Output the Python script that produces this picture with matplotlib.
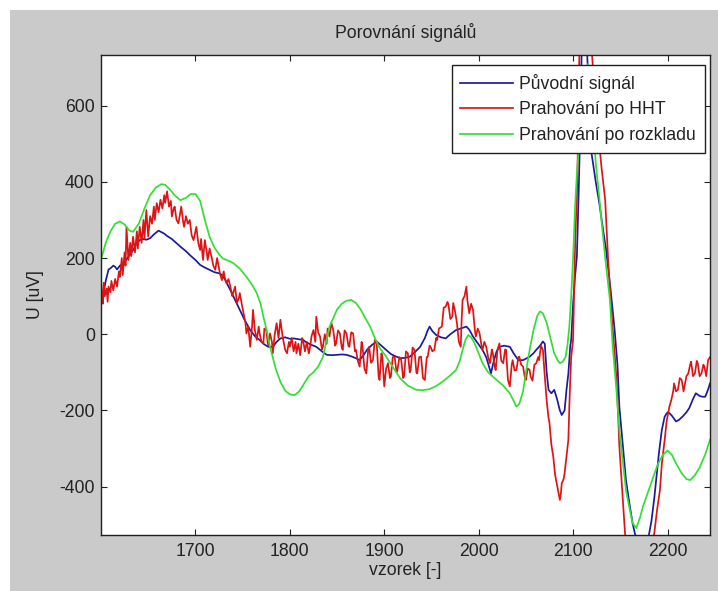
import matplotlib
matplotlib.use("Agg")
import matplotlib.pyplot as plt
from matplotlib.patches import Rectangle

plt.rcParams['font.family'] = ['Liberation Sans', 'DejaVu Sans']
plt.rcParams['axes.unicode_minus'] = False

title = "Porovnání signálů"
xlabel = "vzorek [-]"
ylabel = "U [uV]"
labels = ["Původní signál", "Prahování po HHT", "Prahování po rozkladu"]
xticks = [1700, 1800, 1900, 2000, 2100, 2200]
yticks = [-400, -200, 0, 200, 400, 600]

blue_pts = [(1600,120),(1602,99),(1605,140),(1608,170),(1610,173),(1613,180),(1615,177),(1617,170),(1620,180),(1624,186),(1628,200),(1631,210),(1634,221),(1637,235),(1641,247),(1645,250),(1648,248),(1652,252),(1656,262),(1659,268),(1661,272),(1664,268),(1667,264),(1670,258),(1675,250),(1680,239),(1685,228),(1690,218),(1694,208),(1700,195),(1705,182),(1710,175),(1715,169),(1720,163),(1725,160),(1728,156),(1731,145),(1734,130),(1737,116),(1742,90),(1747,64),(1752,38),(1758,11),(1763,-5),(1768,-15),(1772,-25),(1777,-33),(1782,-33),(1786,-20),(1790,-11),(1795,-8),(1800,-12),(1804,-11),(1809,-13),(1814,-15),(1818,-22),(1823,-28),(1828,-33),(1834,-45),(1839,-54),(1845,-55),(1850,-54),(1855,-53),(1860,-54),(1865,-58),(1870,-63),(1874,-68),(1878,-55),(1882,-40),(1887,-28),(1892,-19),(1896,-28),(1902,-41),(1907,-52),(1912,-58),(1917,-63),(1922,-62),(1927,-59),(1932,-48),(1938,-33),(1943,-10),(1946,10),(1948,20),(1951,8),(1955,-2),(1960,-8),(1965,-11),(1970,0),(1976,11),(1981,15),(1987,20),(1990,12),(1994,-6),(1998,-20),(2001,-30),(2004,-41),(2008,-60),(2011,-85),(2013,-103),(2016,-70),(2019,-45),(2022,-33),(2027,-30),(2033,-33),(2037,-50),(2042,-68),(2047,-68),(2051,-63),(2054,-59),(2058,-50),(2061,-41),(2065,-30),(2068,-19),(2070,-25),(2072,-100),(2074,-146),(2077,-155),(2080,-146),(2083,-170),(2086,-200),(2088,-212),(2091,-200),(2093,-146),(2095,-103),(2097,-30),(2098,-15),(2100,80),(2102,150),(2104,204),(2106,380),(2107,484),(2109,730),(2112,820),(2115,730),(2119,484),(2124,400),(2128,340),(2132,270),(2135,221),(2140,110),(2144,11),(2147,-80),(2149,-190),(2153,-300),(2156,-383),(2160,-450),(2163,-496),(2167,-540),(2171,-565),(2175,-570),(2179,-545),(2183,-490),(2186,-430),(2188,-383),(2191,-310),(2194,-251),(2197,-216),(2200,-205),(2202,-207),(2205,-215),(2209,-229),(2212,-225),(2216,-216),(2220,-205),(2223,-194),(2227,-170),(2230,-155),(2234,-162),(2237,-164),(2240,-164),(2243,-145),(2245,-129)]

red_pts = [(1600,150),(1601,95),(1602,80),(1603,135),(1604,100),(1606,120),(1607,85),(1608,125),(1610,110),(1611,140),(1613,115),(1615,145),(1617,125),(1619,165),(1620,150),(1622,200),(1623,155),(1625,215),(1626,180),(1627,282),(1629,195),(1631,240),(1632,205),(1634,256),(1636,215),(1638,270),(1639,225),(1641,282),(1643,240),(1645,300),(1646,250),(1648,326),(1650,256),(1652,310),(1654,290),(1656,335),(1657,300),(1659,344),(1661,320),(1663,353),(1665,330),(1667,365),(1668,345),(1670,375),(1672,335),(1674,350),(1675,309),(1677,330),(1678,335),(1680,300),(1682,291),(1684,320),(1685,335),(1687,295),(1688,282),(1690,310),(1692,290),(1694,300),(1696,260),(1698,247),(1700,270),(1701,282),(1703,240),(1705,221),(1706,250),(1708,195),(1710,247),(1712,215),(1713,195),(1715,225),(1717,204),(1719,180),(1721,169),(1723,200),(1724,186),(1726,160),(1728,142),(1730,165),(1731,150),(1733,134),(1735,145),(1737,125),(1739,100),(1740,108),(1742,125),(1744,82),(1746,95),(1747,108),(1749,80),(1751,55),(1753,30),(1754,2),(1756,20),(1758,-33),(1760,20),(1761,64),(1763,10),(1765,-15),(1767,20),(1768,2),(1770,-20),(1772,-24),(1773,15),(1775,11),(1777,-30),(1779,2),(1781,-20),(1782,-50),(1784,0),(1786,29),(1788,-10),(1790,38),(1792,0),(1793,-15),(1795,-40),(1797,-50),(1799,-20),(1800,-33),(1802,-10),(1804,-45),(1806,-20),(1807,-50),(1809,-25),(1811,-55),(1813,-10),(1814,-15),(1816,-45),(1818,-20),(1820,-50),(1821,-41),(1823,-5),(1825,11),(1827,-20),(1828,46),(1830,5),(1832,-6),(1834,-40),(1835,-33),(1837,0),(1839,-25),(1840,15),(1842,-6),(1844,30),(1846,11),(1848,-30),(1849,-24),(1851,10),(1853,2),(1855,-35),(1856,-41),(1858,10),(1860,2),(1862,-30),(1863,-33),(1865,5),(1867,2),(1869,-45),(1870,-41),(1872,-70),(1874,-85),(1876,-20),(1877,-33),(1879,-90),(1881,-103),(1883,-40),(1884,-33),(1886,-75),(1888,-68),(1890,-15),(1892,-24),(1894,-110),(1895,-120),(1897,-50),(1898,-59),(1900,-137),(1902,-90),(1904,-76),(1906,-115),(1907,-111),(1909,-60),(1911,-59),(1913,-100),(1914,-94),(1916,-60),(1918,-68),(1920,-115),(1921,-111),(1923,-45),(1925,-50),(1927,-100),(1928,-94),(1930,-35),(1932,-41),(1934,-100),(1935,-103),(1937,-60),(1939,-59),(1941,-115),(1943,-120),(1945,-60),(1946,-59),(1948,-30),(1949,-33),(1951,-45),(1953,-41),(1955,-10),(1956,-15),(1958,15),(1961,20),(1963,70),(1965,72),(1967,85),(1968,77),(1970,40),(1972,46),(1973,82),(1975,60),(1977,29),(1979,-20),(1981,-33),(1982,40),(1983,90),(1985,100),(1987,125),(1988,90),(1990,55),(1992,80),(1994,64),(1996,10),(1997,-6),(1999,15),(2001,2),(2003,-30),(2004,-41),(2006,-20),(2008,-33),(2010,-60),(2012,-76),(2014,-40),(2015,-50),(2017,-85),(2018,-94),(2020,-40),(2022,-24),(2024,-70),(2026,-76),(2028,-40),(2029,-41),(2031,-120),(2033,-137),(2035,-80),(2036,-68),(2038,-95),(2040,-94),(2042,-60),(2043,-59),(2045,-80),(2047,-85),(2049,-115),(2050,-120),(2052,-90),(2054,-94),(2055,-111),(2057,-122),(2059,-80),(2061,-76),(2063,-60),(2064,-68),(2066,-30),(2068,-41),(2070,-110),(2072,-173),(2074,-220),(2075,-233),(2077,-290),(2079,-321),(2081,-370),(2082,-383),(2084,-410),(2086,-435),(2087,-420),(2088,-391),(2090,-380),(2091,-365),(2093,-320),(2095,-277),(2096,-190),(2097,-120),(2098,-59),(2100,-15),(2101,100),(2102,220),(2103,300),(2104,352),(2105,480),(2106,650),(2107,780),(2110,860),(2113,880),(2116,850),(2119,770),(2121,700),(2124,600),(2127,520),(2130,440),(2134,352),(2137,200),(2140,80),(2142,11),(2144,-50),(2146,-120),(2148,-230),(2149,-295),(2151,-370),(2153,-443),(2155,-522),(2158,-600),(2162,-650),(2167,-680),(2173,-670),(2178,-640),(2182,-580),(2186,-522),(2189,-460),(2192,-409),(2194,-340),(2197,-277),(2199,-230),(2200,-216),(2202,-190),(2204,-173),(2206,-150),(2207,-129),(2209,-150),(2211,-146),(2213,-115),(2215,-120),(2217,-150),(2218,-137),(2220,-110),(2222,-103),(2224,-80),(2225,-72),(2227,-110),(2229,-103),(2231,-70),(2232,-76),(2234,-110),(2236,-103),(2238,-80),(2239,-85),(2241,-110),(2243,-68),(2245,-60)]

green_pts = [(1600,195),(1605,240),(1610,270),(1615,290),(1620,296),(1625,288),(1630,272),(1634,269),(1640,290),(1646,330),(1652,365),(1658,385),(1664,394),(1668,392),(1673,380),(1678,365),(1684,352),(1690,358),(1695,368),(1700,368),(1705,350),(1710,300),(1715,256),(1720,228),(1725,210),(1729,199),(1735,193),(1740,187),(1747,172),(1754,151),(1760,130),(1765,108),(1769,80),(1772,46),(1776,5),(1779,-33),(1785,-90),(1790,-125),(1795,-148),(1800,-158),(1805,-160),(1810,-150),(1815,-130),(1820,-110),(1825,-100),(1830,-85),(1835,-60),(1842,20),(1850,65),(1855,80),(1860,88),(1865,90),(1870,82),(1875,65),(1880,42),(1885,20),(1890,-10),(1895,-35),(1902,-59),(1910,-90),(1917,-116),(1925,-135),(1934,-146),(1941,-147),(1948,-144),(1955,-136),(1962,-124),(1969,-110),(1976,-94),(1980,-70),(1983,-41),(1986,-15),(1989,-2),(1992,-8),(1995,-20),(2000,-50),(2004,-76),(2010,-100),(2019,-120),(2026,-135),(2033,-155),(2037,-175),(2040,-190),(2043,-183),(2047,-150),(2050,-100),(2054,-41),(2058,10),(2062,48),(2065,60),(2068,55),(2072,30),(2076,-10),(2080,-50),(2084,-70),(2086,-76),(2089,-72),(2092,-60),(2094,-30),(2096,20),(2098,100),(2100,200),(2102,330),(2104,420),(2108,560),(2112,690),(2116,710),(2120,600),(2124,450),(2128,352),(2134,200),(2139,90),(2142,-33),(2146,-150),(2149,-251),(2153,-340),(2156,-409),(2160,-460),(2163,-496),(2167,-509),(2171,-480),(2174,-452),(2180,-410),(2185,-374),(2190,-340),(2195,-317),(2200,-305),(2205,-318),(2209,-339),(2215,-365),(2220,-380),(2224,-383),(2229,-370),(2234,-350),(2240,-315),(2245,-277)]

blue_x, blue_y = zip(*blue_pts)
red_x, red_y = zip(*red_pts)
green_x, green_y = zip(*green_pts)

W, H = 718, 591
fig = plt.figure(figsize=(W/100, H/100), dpi=100, facecolor='white')
fig.patches.append(Rectangle((10/W, 0), 1 - 10/W, 1 - 10/H, transform=fig.transFigure,
                             facecolor='#cacaca', edgecolor='none', zorder=-10))

ax = fig.add_axes([101/W, (H-535)/H, (710-101)/W, (535-55)/H])
ax.set_facecolor('white')
fs = 12.7
ax.plot(blue_x, blue_y, color='#1a1a9e', lw=1.25, label=labels[0])
ax.plot(red_x, red_y, color='#de1414', lw=1.25, label=labels[1])
ax.plot(green_x, green_y, color='#34de34', lw=1.25, label=labels[2])

ax.set_xlim(1600, 2245)
ax.set_ylim(-527, 733)
ax.set_xticks(xticks)
ax.set_yticks(yticks)
ax.tick_params(direction='in', length=4.3, width=0.8, top=True, right=True,
               labelsize=fs, colors='#222222')
ax.tick_params(axis='x', pad=5.5)
ax.tick_params(axis='y', pad=4.5)
for s in ax.spines.values():
    s.set_linewidth(1.0)
    s.set_color('#202020')

ax.set_title(title, fontsize=fs, color='#222222', pad=12)
ax.set_xlabel(xlabel, fontsize=fs, color='#222222', labelpad=2)
ax.set_ylabel(ylabel, fontsize=fs, color='#222222', labelpad=11)

leg = ax.legend(loc='upper right', bbox_to_anchor=((705-101)/609, (535-65)/480),
                borderaxespad=0, fontsize=fs, frameon=True, fancybox=False,
                handlelength=3.0, handletextpad=0.35, labelspacing=0.48,
                borderpad=0.5)
leg.get_frame().set_edgecolor('#202020')
leg.get_frame().set_linewidth(1.0)
leg.get_frame().set_alpha(1)
for t in leg.get_texts():
    t.set_color('#222222')

fig.savefig('out.png', dpi=100, facecolor=fig.get_facecolor())
